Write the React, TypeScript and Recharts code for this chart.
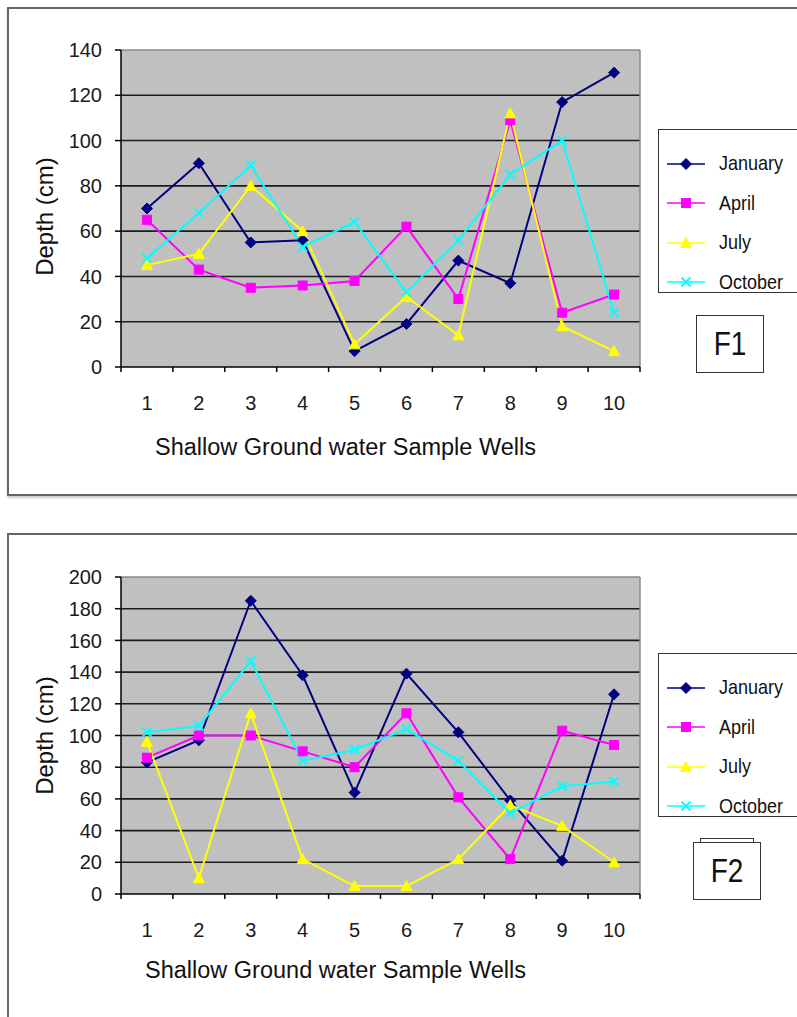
import React from 'react';
import { LineChart, Line, XAxis, YAxis, CartesianGrid, ReferenceLine, Legend, Label } from 'recharts';

// Sample wells along the x axis
const wells = [1, 2, 3, 4, 5, 6, 7, 8, 9, 10];

// Site F1 – water depth (cm) per season
const f1January = [70, 90, 55, 56, 7, 19, 47, 37, 117, 130];
const f1April = [65, 43, 35, 36, 38, 62, 30, 109, 24, 32];
const f1July = [45, 50, 80, 60, 10, 31, 14, 112, 18, 7];
const f1October = [48, 68, 89, 53, 64, 33, 56, 85, 100, 24];

// Site F2 – water depth (cm) per season
const f2January = [83, 97, 185, 138, 64, 139, 102, 59, 21, 126];
const f2April = [86, 100, 100, 90, 80, 114, 61, 22, 103, 94];
const f2July = [96, 10, 114, 22, 5, 5, 22, 56, 43, 20];
const f2October = [102, 106, 147, 84, 91, 104, 84, 51, 68, 71];

const f1Ticks = [0, 20, 40, 60, 80, 100, 120, 140];
const f2Ticks = [0, 20, 40, 60, 80, 100, 120, 140, 160, 180, 200];

const seriesNames = ['January', 'April', 'July', 'October'];
const seriesColors = ['#000080', '#FF00FF', '#FFFF00', '#00FFFF'];
const seriesShapes = ['diamond', 'square', 'triangle', 'cross'];

const FONT = '"Liberation Sans", Arial, Helvetica, sans-serif';
const LABEL_GAP = 29;
const PLOT_WIDTH = 519;

function buildRows(cols: number[][]) {
  return wells.map((w, i) => {
    const row: Record<string, number> = { well: w };
    seriesNames.forEach((n, k) => {
      row[n] = cols[k][i];
    });
    return row;
  });
}

function Marker({ cx, cy, shape, color }: { cx: number; cy: number; shape: string; color: string }) {
  if (cx == null || cy == null) return null;
  if (shape === 'diamond') {
    const r = 5.5;
    return (
      <polygon
        points={`${cx},${cy - r} ${cx + r},${cy} ${cx},${cy + r} ${cx - r},${cy}`}
        fill={color}
        stroke={color}
        strokeWidth={1}
      />
    );
  }
  if (shape === 'square') {
    const r = 4.5;
    return <rect x={cx - r} y={cy - r} width={2 * r} height={2 * r} fill={color} stroke={color} strokeWidth={1} />;
  }
  if (shape === 'triangle') {
    const r = 5.5;
    return (
      <polygon
        points={`${cx},${cy - r} ${cx + r},${cy + r - 1} ${cx - r},${cy + r - 1}`}
        fill={color}
        stroke={color}
        strokeWidth={1}
      />
    );
  }
  const r = 4.5;
  return (
    <g stroke={color} strokeWidth={2}>
      <line x1={cx - r} y1={cy - r} x2={cx + r} y2={cy + r} />
      <line x1={cx - r} y1={cy + r} x2={cx + r} y2={cy - r} />
    </g>
  );
}

// Well number centred in its slot, with Excel-style tick marks on the slot borders
function WellTick(props: any) {
  const { x, y, payload, index, visibleTicksCount } = props;
  const count = visibleTicksCount || wells.length;
  const axisWidth = typeof props.width === 'number' && props.width > 0 ? props.width : PLOT_WIDTH;
  const half = axisWidth / count / 2;
  const axisY = y - LABEL_GAP;
  return (
    <g>
      <line x1={x - half} y1={axisY} x2={x - half} y2={axisY + 5} stroke="#000" strokeWidth={1.5} />
      {index === count - 1 && (
        <line x1={x + half} y1={axisY} x2={x + half} y2={axisY + 5} stroke="#000" strokeWidth={1.5} />
      )}
      <text x={x} y={y} dy="0.71em" textAnchor="middle" fontSize={20} fontFamily={FONT} fill="#1a1a1a">
        {payload.value}
      </text>
    </g>
  );
}

function LegendBox({ payload }: any) {
  const items = [...(payload || [])].sort(
    (a: any, b: any) => seriesNames.indexOf(a.value) - seriesNames.indexOf(b.value)
  );
  return (
    <div
      style={{
        width: '100%',
        height: '100%',
        boxSizing: 'border-box',
        border: '1.5px solid #333',
        background: '#fff',
        paddingTop: 14,
        fontFamily: FONT,
      }}
    >
      {items.map((entry: any) => {
        const k = seriesNames.indexOf(entry.value);
        return (
          <div key={entry.value} style={{ display: 'flex', alignItems: 'center', height: 39.5 }}>
            <svg width={60} height={20} style={{ display: 'block', flex: 'none' }}>
              <line x1={8} y1={10} x2={46} y2={10} stroke={entry.color} strokeWidth={2} opacity={0.75} />
              <Marker cx={27} cy={10} shape={seriesShapes[k]} color={entry.color} />
            </svg>
            <span style={{ fontSize: 18, color: '#111', display: 'inline-block', transform: 'scaleY(1.12)' }}>
              {entry.value}
            </span>
          </div>
        );
      })}
    </div>
  );
}

type PanelProps = {
  top: number;
  rows: Record<string, number>[];
  yTicks: number[];
  tag: string;
  legendTop: number;
  tagLeft: number;
  xTitleShift: number;
  xTitleBaseline: number;
  yTitleShift: number;
  doubleTag?: boolean;
};

function Panel({ top, rows, yTicks, tag, legendTop, tagLeft, xTitleShift, xTitleBaseline, yTitleShift, doubleTag }: PanelProps) {
  const yMax = yTicks[yTicks.length - 1];
  const xDomain = [wells[0] - 0.5, wells[wells.length - 1] + 0.5];
  const tickStyle = { fill: '#1a1a1a', fontSize: 20, fontFamily: FONT };

  return (
    <div style={{ position: 'absolute', left: 0, top, width: 797, height: 500 }}>
      <LineChart width={797} height={500} data={rows} margin={{ top: 50, right: 157, left: 61, bottom: 33 }}>
        <CartesianGrid
          vertical={false}
          horizontalValues={yTicks.slice(1, -1)}
          fill="#c0c0c0"
          fillOpacity={1}
          stroke="#1c1c1c"
          strokeWidth={1.6}
        />
        <ReferenceLine y={yMax} stroke="#8a8a8a" strokeWidth={1.5} />
        <ReferenceLine x={xDomain[1]} stroke="#8a8a8a" strokeWidth={1.5} />
        <XAxis
          type="number"
          dataKey="well"
          domain={xDomain}
          ticks={wells}
          interval={0}
          height={100}
          tickSize={0}
          tickLine={false}
          axisLine={{ stroke: '#000', strokeWidth: 1.5 }}
          tickMargin={LABEL_GAP}
          tick={<WellTick />}
        >
          <Label
            content={(props: any) => {
              const vb = props.viewBox || { x: 121, y: 367 };
              return (
                <text
                  x={vb.x + xTitleShift}
                  y={vb.y + xTitleBaseline}
                  fontSize={23.5}
                  fontFamily={FONT}
                  fill="#111"
                  textAnchor="start"
                >
                  Shallow Ground water Sample Wells
                </text>
              );
            }}
          />
        </XAxis>
        <YAxis
          type="number"
          domain={[0, yMax]}
          ticks={yTicks}
          interval={0}
          width={60}
          tickSize={6}
          tickMargin={13}
          axisLine={{ stroke: '#000', strokeWidth: 1.5 }}
          tickLine={{ stroke: '#000', strokeWidth: 1.5 }}
          tick={tickStyle}
        >
          <Label
            content={(props: any) => {
              const vb = props.viewBox || { x: 61, y: 50, height: 317 };
              const cx = vb.x - 17;
              const cy = vb.y + vb.height / 2 + yTitleShift;
              return (
                <text
                  x={cx}
                  y={cy}
                  transform={`rotate(-90 ${cx} ${cy})`}
                  fontSize={24}
                  fontFamily={FONT}
                  fill="#111"
                  textAnchor="middle"
                  dominantBaseline="central"
                >
                  Depth (cm)
                </text>
              );
            }}
          />
        </YAxis>
        <Legend
          layout="vertical"
          align="center"
          verticalAlign="middle"
          content={<LegendBox />}
          wrapperStyle={{ left: 658, top: legendTop, width: 145, height: 164 }}
        />
        {seriesNames.map((name, k) => (
          <Line
            key={name}
            type="linear"
            dataKey={name}
            name={name}
            stroke={seriesColors[k]}
            strokeWidth={2}
            isAnimationActive={false}
            activeDot={false}
            dot={(p: any) => (
              <Marker key={`${name}-${p.index}`} cx={p.cx} cy={p.cy} shape={seriesShapes[k]} color={seriesColors[k]} />
            )}
          />
        ))}
      </LineChart>
      <div
        style={{
          position: 'absolute',
          left: tagLeft,
          top: 315,
          width: 68,
          height: 58,
          boxSizing: 'border-box',
          border: '1.5px solid #333',
          background: '#fff',
          display: 'flex',
          alignItems: 'center',
          justifyContent: 'center',
          fontFamily: FONT,
          fontSize: 28,
          color: '#111',
        }}
      >
        {doubleTag && (
          <div
            style={{
              position: 'absolute',
              left: 6,
              right: 6,
              top: -5,
              height: 4,
              borderTop: '1.5px solid #333',
              borderLeft: '1.5px solid #333',
              borderRight: '1.5px solid #333',
            }}
          />
        )}
        <span style={{ display: 'inline-block', transform: 'scaleY(1.2)' }}>{tag}</span>
      </div>
    </div>
  );
}

const f1Rows = buildRows([f1January, f1April, f1July, f1October]);
const f2Rows = buildRows([f2January, f2April, f2July, f2October]);

export default function App() {
  return (
    <div
      style={{
        position: 'absolute',
        left: 0,
        top: 0,
        width: 797,
        height: 1017,
        overflow: 'hidden',
        background: '#fff',
      }}
    >
      <div
        style={{
          position: 'absolute',
          left: 7,
          top: 7,
          width: 800,
          height: 489,
          boxSizing: 'border-box',
          border: '2px solid #666',
          boxShadow: '0 2px 2px #ccc',
        }}
      />
      <div
        style={{
          position: 'absolute',
          left: 7,
          top: 533,
          width: 800,
          height: 500,
          boxSizing: 'border-box',
          border: '2px solid #666',
        }}
      />
      <Panel
        top={0}
        rows={f1Rows}
        yTicks={f1Ticks}
        tag="F1"
        legendTop={129}
        tagLeft={696}
        xTitleShift={34}
        xTitleBaseline={88}
        yTitleShift={8}
      />
      <Panel
        top={527}
        rows={f2Rows}
        yTicks={f2Ticks}
        tag="F2"
        legendTop={126}
        tagLeft={693}
        xTitleShift={24}
        xTitleBaseline={84}
        yTitleShift={0}
        doubleTag
      />
    </div>
  );
}
